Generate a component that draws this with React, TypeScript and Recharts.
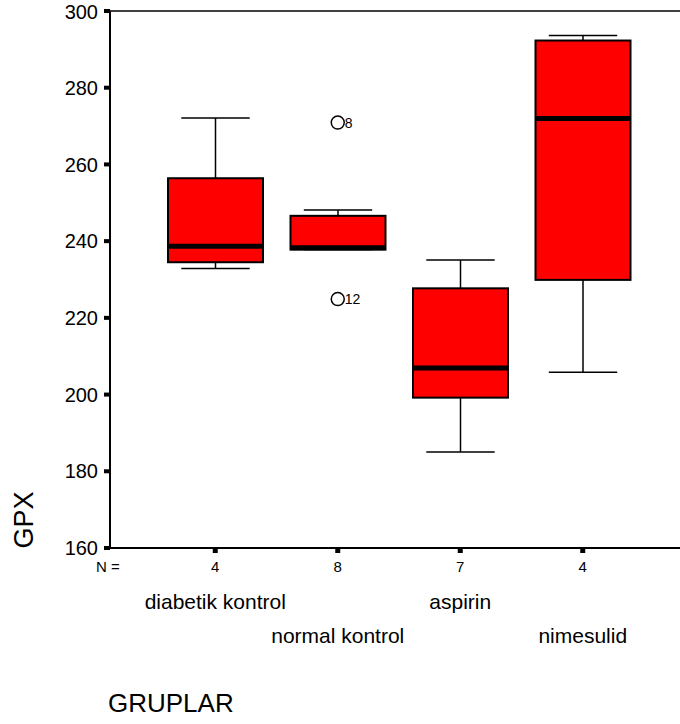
import React from "react";
import { ComposedChart, Bar, Scatter, XAxis, YAxis, ReferenceLine } from "recharts";

// group names and counts (N =)
const groups = ["diabetik kontrol", "normal kontrol", "aspirin", "nimesulid"];
const nCounts = [4, 8, 7, 4];

// box plot statistics
const mins = [232.9, 237.8, 185.0, 205.8];
const q1s = [234.5, 237.8, 199.2, 229.9];
const medians = [238.7, 238.3, 206.9, 272.0];
const q3s = [256.4, 246.6, 227.7, 292.3];
const maxs = [272.1, 248.1, 235.1, 293.6];

// outliers (case numbers shown next to circles)
const outHigh = [null, 270.9, null, null];
const outHighIds = [null, "8", null, null];
const outLow = [null, 224.9, null, null];
const outLowIds = [null, "12", null, null];

const yTicks = [160, 180, 200, 220, 240, 260, 280, 300];

const data = groups.map((group, i) => ({
    group,
    n: nCounts[i],
    min: mins[i],
    q1: q1s[i],
    median: medians[i],
    q3: q3s[i],
    max: maxs[i],
    box: [q1s[i], q3s[i]],
    outHigh: outHigh[i],
    outHighId: outHighIds[i],
    outLow: outLow[i],
    outLowId: outLowIds[i],
}));

const FONT = "'Liberation Sans', Arial, sans-serif";

// draws whiskers, box and median from the bar geometry given by the y scale
const BoxShape = (props: any) => {
    const { x, y, width, height, payload } = props;
    if (x == null || y == null) return null;
    const top = Math.min(y, y + height);
    const h = Math.abs(height);
    const { min, q1, median, q3, max } = payload;
    const ppu = h / (q3 - q1);
    const yOf = (v: number) => top + (q3 - v) * ppu;
    const cx = x + width / 2;
    const cap = width * 0.36;
    return (
        <g>
            <line x1={cx} x2={cx} y1={yOf(max)} y2={top} stroke="#000" strokeWidth={1.5} />
            <line x1={cx} x2={cx} y1={top + h} y2={yOf(min)} stroke="#000" strokeWidth={1.5} />
            <line x1={cx - cap} x2={cx + cap} y1={yOf(max)} y2={yOf(max)} stroke="#000" strokeWidth={1.5} />
            <line x1={cx - cap} x2={cx + cap} y1={yOf(min)} y2={yOf(min)} stroke="#000" strokeWidth={1.5} />
            <rect x={x} y={top} width={width} height={h} fill="#ff0000" stroke="#000" strokeWidth={2} />
            <line x1={x} x2={x + width} y1={yOf(median)} y2={yOf(median)} stroke="#000" strokeWidth={5} />
        </g>
    );
};

const makeOutlier = (valueKey: string, idKey: string) => (props: any) => {
    const { cx, cy, payload } = props;
    if (!payload || payload[valueKey] == null || cx == null || cy == null) return null;
    return (
        <g>
            <circle cx={cx} cy={cy} r={6.5} fill="none" stroke="#000" strokeWidth={1.5} />
            <text x={cx + 7} y={cy + 5} fontSize={14} fill="#000" fontFamily={FONT}>
                {payload[idKey]}
            </text>
        </g>
    );
};

const GroupTick = (props: any) => {
    const { x, y, payload } = props;
    const i = groups.indexOf(payload.value);
    return (
        <g fontFamily={FONT} fill="#000">
            <text x={x} y={y + 19} textAnchor="middle" fontSize={15}>
                {nCounts[i]}
            </text>
            <text x={x} y={y + (i % 2 === 0 ? 56 : 90)} textAnchor="middle" fontSize={21}>
                {payload.value}
            </text>
        </g>
    );
};

export default function App() {
    return (
        <div
            style={{
                position: "absolute",
                left: 0,
                top: 0,
                width: 680,
                height: 724,
                overflow: "hidden",
                background: "#fff",
                fontFamily: FONT,
            }}
        >
            <ComposedChart
                width={680}
                height={724}
                data={data}
                margin={{ top: 11, right: -8, bottom: 146, left: 0 }}
            >
                <XAxis
                    dataKey="group"
                    type="category"
                    interval={0}
                    padding={{ left: 44, right: 44 }}
                    height={30}
                    axisLine={{ stroke: "#000", strokeWidth: 2 }}
                    tickLine={{ stroke: "#000", strokeWidth: 5 }}
                    tickSize={5}
                    tickMargin={0}
                    tick={<GroupTick />}
                />
                <YAxis
                    type="number"
                    domain={[160, 300]}
                    ticks={yTicks}
                    width={110}
                    axisLine={{ stroke: "#000", strokeWidth: 2 }}
                    tickLine={{ stroke: "#000", strokeWidth: 4 }}
                    tickSize={6}
                    tickMargin={6}
                    tick={{ fill: "#000", fontSize: 20, fontFamily: FONT }}
                />
                <ReferenceLine y={300} stroke="#000" strokeWidth={1.5} />
                <Bar dataKey="box" barSize={95} shape={<BoxShape />} isAnimationActive={false} />
                <Scatter dataKey="outHigh" shape={makeOutlier("outHigh", "outHighId")} isAnimationActive={false} />
                <Scatter dataKey="outLow" shape={makeOutlier("outLow", "outLowId")} isAnimationActive={false} />
            </ComposedChart>
            <svg
                width={680}
                height={724}
                style={{ position: "absolute", left: 0, top: 0, pointerEvents: "none" }}
                fontFamily={FONT}
            >
                <text x={108} y={572} textAnchor="middle" fontSize={15} fill="#000">
                    N =
                </text>
                <text x={33} y={520} textAnchor="middle" fontSize={27} fill="#000" transform="rotate(-90 33 520)">
                    GPX
                </text>
                <text x={108} y={712} fontSize={26} fill="#000">
                    GRUPLAR
                </text>
            </svg>
        </div>
    );
}
